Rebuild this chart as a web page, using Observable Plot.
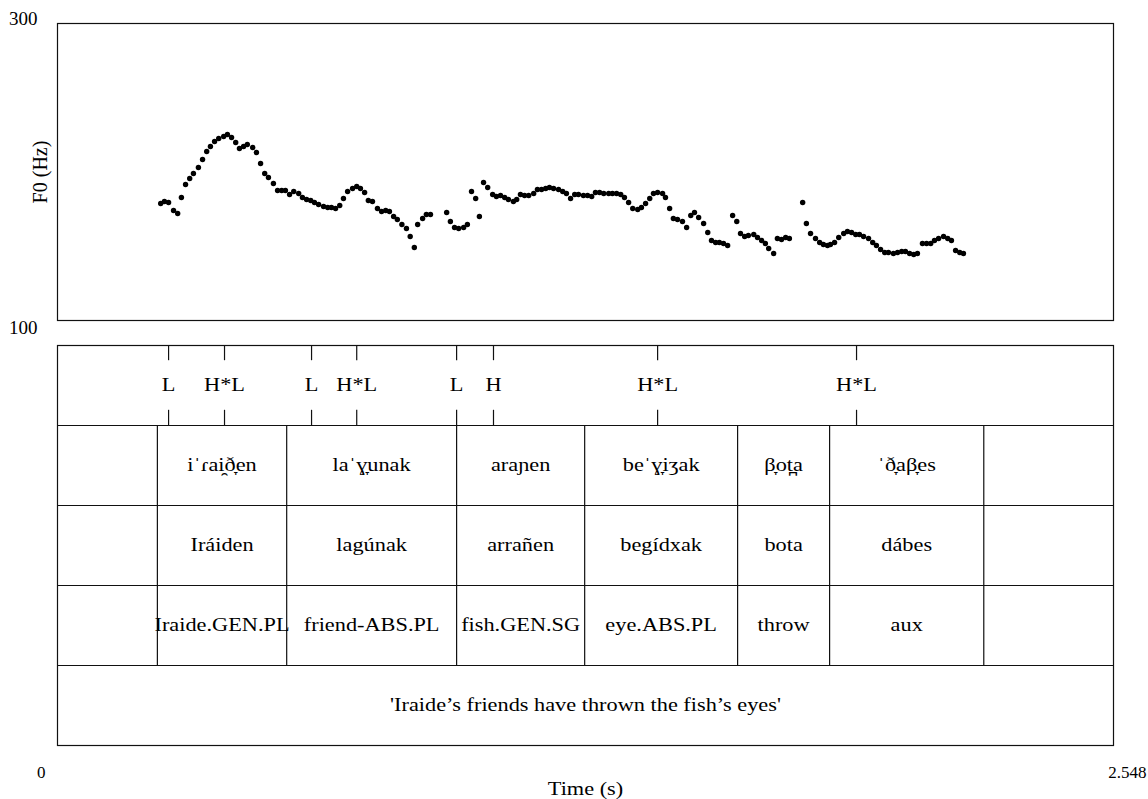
<!DOCTYPE html>
<html>
<head>
<meta charset="utf-8">
<script src="https://cdn.jsdelivr.net/npm/d3@7"></script>
<script src="https://cdn.jsdelivr.net/npm/@observablehq/plot@0.6"></script>
<style>
  body { margin: 0; background: #fff; }
  svg { display: block; }
</style>
</head>
<body>
<div id="chart"></div>
<script>
// ---- data ----
const timeDomain = [0, 2.548];
const f0Domain = [100, 300];
const yTickValues = [100, 300];
const xTickValues = [0, 2.548];
const xTickLabels = ["0", "2.548"];
const yLabel = "F0 (Hz)";
const xLabel = "Time (s)";

// pitch track: [time (s), F0 (Hz)]
const f0Track = [
  [0.249,178.8],[0.258,180.1],[0.268,179.5],[0.280,174.1],[0.290,172.1],
  [0.299,182.8],[0.309,191.6],[0.319,195.6],[0.328,199.0],[0.340,203.0],[0.350,208.4],[0.360,213.8],[0.369,217.2],[0.379,220.5],[0.389,222.6],
  [0.401,223.9],[0.410,225.3],[0.420,223.2],[0.430,219.9],[0.439,215.8],[0.449,217.2],[0.458,218.5],[0.471,216.5],[0.480,213.1],[0.490,205.7],
  [0.500,199.0],[0.509,196.3],[0.521,192.3],[0.531,187.5],[0.541,187.5],[0.550,187.5],[0.560,184.8],[0.570,186.9],[0.582,185.5],[0.591,182.8],
  [0.601,181.5],[0.611,180.8],[0.620,179.5],[0.630,178.1],[0.642,176.8],[0.652,176.1],[0.661,176.1],[0.671,175.4],[0.681,177.4],[0.690,182.2],
  [0.700,186.9],[0.712,188.9],[0.722,190.2],[0.731,188.9],[0.741,186.2],[0.750,180.8],[0.760,180.1],[0.772,175.4],[0.782,173.4],[0.792,174.1],
  [0.801,173.4],[0.811,170.0],[0.820,168.0],[0.831,164.6],[0.842,162.0],[0.851,156.6],[0.861,149.2],[0.869,164.6],[0.881,168.7],[0.890,171.4],[0.900,171.4],
  [0.939,172.7],[0.948,166.7],[0.958,162.6],[0.968,162.0],[0.980,162.6],[0.989,164.6],
  [0.999,186.9],[1.009,182.2],[1.018,170.0],[1.028,192.9],[1.038,189.6],[1.050,184.8],[1.059,183.5],[1.069,184.2],[1.079,182.8],[1.088,181.5],
  [1.100,180.1],[1.108,181.5],[1.117,184.8],[1.127,184.2],[1.137,184.2],[1.149,185.5],[1.158,188.2],[1.168,188.2],[1.178,188.9],[1.187,189.6],
  [1.197,188.9],[1.209,188.2],[1.219,186.9],[1.228,185.5],[1.238,182.2],[1.248,184.8],[1.257,184.8],[1.269,184.2],[1.279,184.2],[1.289,183.5],
  [1.298,186.2],[1.308,186.2],[1.318,185.5],[1.330,185.5],[1.339,185.5],[1.349,185.5],[1.359,184.8],[1.368,182.8],[1.378,179.5],[1.388,175.4],
  [1.400,174.7],[1.409,176.1],[1.419,178.8],[1.429,182.2],[1.438,185.5],[1.448,186.2],[1.460,185.5],[1.467,182.8],[1.477,175.4],[1.486,168.7],
  [1.496,168.0],[1.508,166.7],[1.518,162.6],[1.528,170.7],[1.537,172.7],[1.547,169.4],[1.559,165.3],[1.569,159.3],[1.578,153.9],[1.588,152.5],
  [1.597,152.5],[1.607,151.9],[1.617,150.5],
  [1.629,170.7],[1.639,166.7],[1.648,158.6],[1.658,156.6],[1.667,157.2],[1.680,157.9],[1.689,155.9],[1.699,153.9],[1.708,151.9],[1.716,148.5],[1.728,145.1],
  [1.737,155.2],[1.747,154.5],[1.757,155.9],[1.766,155.2],
  [1.798,179.5],[1.807,165.3],[1.817,158.6],[1.829,155.2],[1.839,152.5],[1.848,151.2],[1.858,150.5],[1.865,151.2],[1.875,152.5],[1.885,155.9],
  [1.897,158.6],[1.906,159.9],[1.916,159.3],[1.926,157.9],[1.935,157.9],[1.945,156.6],[1.957,155.2],[1.967,152.5],[1.976,150.5],[1.986,147.8],
  [1.996,145.8],[2.005,145.8],[2.017,145.1],[2.027,145.8],[2.037,146.5],[2.046,146.5],[2.056,145.1],[2.066,144.4],[2.075,145.1],
  [2.087,151.9],[2.097,151.9],[2.107,151.9],[2.116,153.9],[2.126,155.2],[2.138,156.6],[2.148,155.2],[2.157,153.9],
  [2.167,147.1],[2.177,145.8],[2.186,145.1]
];

// tonal tier (point tier)
const toneLabels = ["L", "H*L", "L", "H*L", "L", "H", "H*L", "H*L"];
const toneTimes  = [0.268, 0.403, 0.613, 0.722, 0.963, 1.052, 1.448, 1.928];

// word interval tiers
const wordBoundaries = [0.241, 0.553, 0.963, 1.272, 1.641, 1.863, 2.235];
const ipaWords   = ["iˈɾai̯ð̞en", "laˈɣ̞unak", "araɲen", "beˈɣ̞iʒak", "β̞ot̪a", "ˈð̞aβ̞es"];
const orthWords  = ["Iráiden", "lagúnak", "arrañen", "begídxak", "bota", "dábes"];
const glossWords = ["Iraide.GEN.PL", "friend-ABS.PL", "fish.GEN.SG", "eye.ABS.PL", "throw", "aux"];
const translation = "'Iraide’s friends have thrown the fish’s eyes'";

// ---- build ----
const font = "'Liberation Serif', 'Times New Roman', serif";
const points = f0Track.map(([t, f]) => ({t, f}));
const tones = toneLabels.map((label, i) => ({label, t: toneTimes[i]}));
const words = ipaWords.map((ipa, i) => ({
  t: (wordBoundaries[i] + wordBoundaries[i + 1]) / 2,
  ipa, orth: orthWords[i], gloss: glossWords[i]
}));

function stretch(svg, sx) {
  svg.querySelectorAll("g.stretch text").forEach(el => {
    const tr = el.getAttribute("transform") || "";
    if (tr.includes("rotate")) return;
    el.setAttribute("transform", tr + ` scale(${sx},1)`);
  });
}

const pitchH = 342;
const pitch = Plot.plot({
  width: 1148, height: pitchH,
  marginLeft: 57, marginRight: 35, marginTop: 23, marginBottom: pitchH - 320,
  x: {domain: timeDomain, axis: null},
  y: {domain: f0Domain, axis: null},
  style: {fontFamily: font, fontSize: "18px", color: "#000", background: "#fff"},
  marks: [
    Plot.frame({stroke: "#111", strokeWidth: 1.2}),
    Plot.dot(points, {x: "t", y: "f", r: 2.7, fill: "#000", stroke: null}),
    Plot.text([yTickValues[1]], {y: d => d, text: d => String(d), frameAnchor: "left", textAnchor: "end", dx: -20, dy: -5, fill: "#000", fontSize: 19}),
    Plot.text([yTickValues[0]], {y: d => d, text: d => String(d), frameAnchor: "left", textAnchor: "end", dx: -20, dy: 7, fill: "#000", fontSize: 19}),
    Plot.text([yLabel], {text: d => d, frameAnchor: "left", textAnchor: "middle", rotate: -90, dx: -17, fill: "#000", fontSize: 20})
  ]
});

const tierH = 799 - pitchH;
const tierTop = 345 - pitchH, tierBottom = 745 - pitchH;
const tiers = Plot.plot({
  width: 1148, height: tierH,
  marginLeft: 57, marginRight: 35, marginTop: tierTop, marginBottom: tierH - tierBottom,
  x: {domain: timeDomain, axis: null},
  y: {domain: [0, 5], range: [tierTop, tierBottom], axis: null},
  style: {fontFamily: font, fontSize: "18px", color: "#000", background: "#fff"},
  marks: [
    Plot.frame({stroke: "#111", strokeWidth: 1.2}),
    Plot.ruleY([1, 2, 3, 4], {stroke: "#111", strokeWidth: 1.2}),
    Plot.ruleX(wordBoundaries, {y1: 1, y2: 4, stroke: "#111", strokeWidth: 1.2}),
    Plot.ruleX(toneTimes, {y1: 0, y2: 0.19, stroke: "#111", strokeWidth: 1.2}),
    Plot.ruleX(toneTimes, {y1: 0.81, y2: 1, stroke: "#111", strokeWidth: 1.2}),
    Plot.text(tones, {x: "t", y: () => 0.5, text: "label", fill: "#000", className: "stretch"}),
    Plot.text(words, {x: "t", y: () => 1.5, text: "ipa", fill: "#000", className: "stretch"}),
    Plot.text(words, {x: "t", y: () => 2.5, text: "orth", fill: "#000", className: "stretch"}),
    Plot.text(words, {x: "t", y: () => 3.5, text: "gloss", fill: "#000", className: "stretch"}),
    Plot.text([translation], {y: () => 4.5, text: d => d, frameAnchor: "middle", fill: "#000", className: "stretch"}),
    Plot.text([xTickValues[0]], {x: d => d, y: () => 5, text: () => xTickLabels[0], textAnchor: "end", dx: -12, dy: 27, fill: "#000", fontSize: 17}),
    Plot.text([xTickValues[1]], {x: d => d, y: () => 5, text: () => xTickLabels[1], textAnchor: "end", dx: 33, dy: 27, fill: "#000", fontSize: 17}),
    Plot.text([xLabel], {y: () => 5, text: d => d, frameAnchor: "middle", dy: 44, fill: "#000", className: "stretch"})
  ]
});

stretch(tiers, 1.24);

const root = document.getElementById("chart");
root.appendChild(pitch);
root.appendChild(tiers);
</script>
</body>
</html>
